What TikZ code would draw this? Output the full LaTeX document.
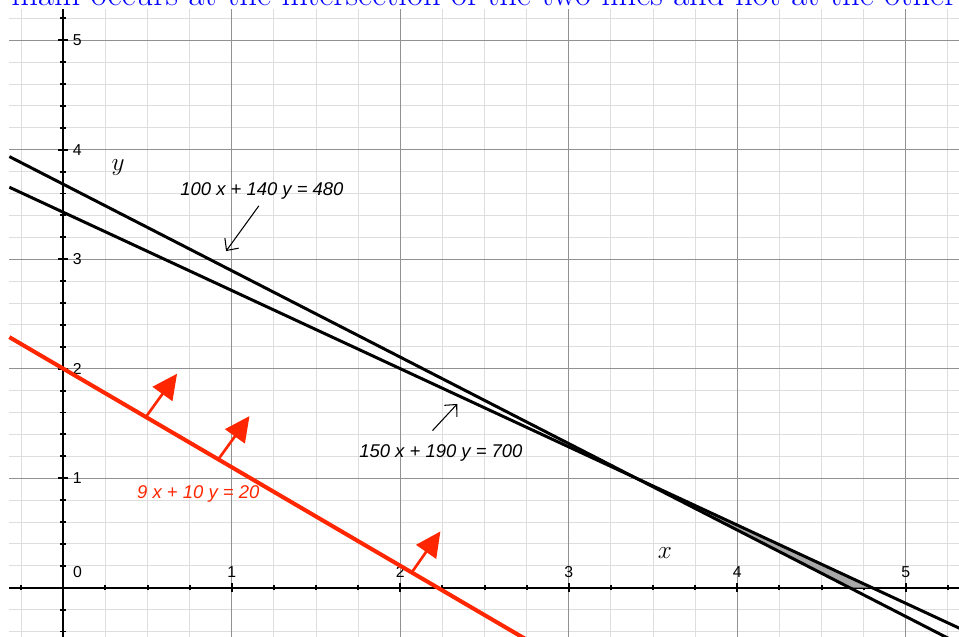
\documentclass[tikz,border=0pt]{standalone}
\usepackage{fontspec}
\newfontfamily\helv{Liberation Sans}
\usetikzlibrary{arrows.meta, positioning}
\definecolor{redline}{RGB}{255,38,0}
\definecolor{minorgray}{RGB}{222,222,222}
\definecolor{majorgray}{RGB}{145,145,145}
\definecolor{shadegray}{RGB}{168,168,168}
\definecolor{headblue}{RGB}{0,0,255}
\tikzstyle{minorgrid}  = [draw=minorgray, line width=0.5pt]
\tikzstyle{majorgrid}  = [draw=majorgray, line width=0.5pt]
\tikzstyle{axis}       = [line width=1.1pt]
\tikzstyle{boundline}  = [line width=1.7pt]
\tikzstyle{redbound}   = [draw=redline, line width=2.3pt]
\tikzstyle{normalarrow} = [draw=redline, fill=redline, line width=1.5pt,
                          -{Triangle[length=5mm, width=4.8mm]}]
\tikzstyle{annot}      = [-{Straight Barb[length=1.8mm, width=3.4mm]}, line width=0.6pt]
\tikzstyle{eqlabel}    = [font=\helv\itshape\fontsize{10.5}{12}\selectfont, inner sep=1pt]
\tikzstyle{ticklabel}  = [font=\helv\fontsize{9}{10}\selectfont, inner sep=0pt]

\begin{document}
\begin{tikzpicture}[x=3.37cm, y=2.19cm]
  \useasboundingbox (-0.3757,-0.4502) rectangle (5.3157,5.3671);
  \clip (-0.3757,-0.4502) rectangle (5.3157,5.3671);

  % Heading, cut off at the top
  \node[anchor=base west, text=headblue, font=\fontsize{19.7}{22}\selectfont, inner sep=0pt]
    (head) at (-0.310,5.321) {main occurs at the intersection of the two lines and not at the other};

  % Grid
  \draw[minorgrid, xstep=0.25, ystep=0.2] (-0.32,-0.46) grid (5.4,5.285);
  \draw[majorgrid, step=1] (-0.32,-0.46) grid (5.4,5.285);

  % Axes and ticks
  \draw[axis] (-0.32,0) -- (5.4,0);
  \draw[axis] (0,-0.46) -- (0,5.285);
  \foreach \t in {-0.25,0,...,5.25} \draw[axis] (\t,-0.023) -- (\t,0.023);
  \foreach \t in {1,...,5} \draw[axis] (\t,-0.041) -- (\t,0.041);
  \foreach \t in {-0.4,-0.2,...,5.2} \draw[axis] (-0.018,\t) -- (0.018,\t);
  \foreach \t in {1,...,5} \draw[axis] (-0.03,\t) -- (0.03,\t);

  % Tick labels
  \node[ticklabel] (x0) at (0.085,0.139) {0};
  \foreach \i in {1,...,5} \node[ticklabel] (x\i) at (\i,0.139) {\i};
  \foreach \i in {1,...,5} \node[ticklabel] (y\i) at (0.083,\i) {\i};
  \node[font=\fontsize{14}{16}\selectfont] (ylab) at (0.325,3.833) {$y$};
  \node[font=\fontsize{14}{16}\selectfont] (xlab) at (3.571,0.316) {$x$};

  % Region between the lines
  \fill[shadegray] (3.4,1) -- (4.6667,0) -- (4.8,0) -- cycle;

  % Constraint lines
  \draw[boundline] (-0.32,3.937) -- (5.4,-0.579);
  \draw[boundline] (-0.32,3.657) -- (5.4,-0.4286);
  \draw[redbound] (-0.32,2.288) -- (2.75,-0.475);

  % Normals of the red line
  \draw[normalarrow] (0.49,1.559) -- ++(0.185,0.395);
  \draw[normalarrow] (0.92,1.172) -- ++(0.185,0.395);
  \draw[normalarrow] (2.068,0.139) -- ++(0.170,0.375);

  % Labels
  \node[eqlabel] (eqA) at (1.179,3.622) {100 x + 140 y = 480};
  \coordinate (tipA) at (0.966,3.074);
  \draw[annot, shorten <=3pt] (eqA.south) -- (tipA);

  \node[eqlabel] (eqB) at (2.241,1.229) {150 x + 190 y = 700};
  \coordinate (tipB) at (2.338,1.678);
  \draw[annot] (eqB.north) ++(-0.05,0.11) -- (tipB);

  \node[eqlabel, text=redline] (eqC) at (0.801,0.856) {9 x + 10 y = 20};
\end{tikzpicture}
\end{document}
